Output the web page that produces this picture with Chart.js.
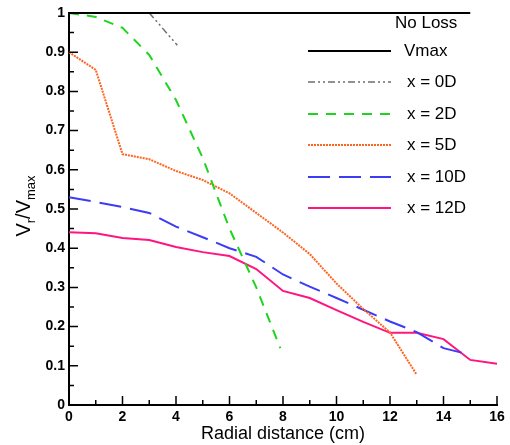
<!DOCTYPE html>
<html>
<head>
<meta charset="utf-8">
<script src="https://cdn.jsdelivr.net/npm/chart.js@4"></script>
<style>
  body { margin: 0; background: #fff; }
  #wrap { width: 510px; height: 445px; }
</style>
</head>
<body>
<div id="wrap"><canvas id="myChart" width="510" height="445"></canvas></div>
<script>
// values
const vmaxX = [0, 15];
const vmaxY = [1, 1];

const x0dX = [0, 1, 2, 3, 4.05];
const x0dY = [1, 1, 1, 1, 0.918];

const x2dX = [0, 1, 2, 3, 4, 5, 6, 7, 7.9];
const x2dY = [1.0, 0.99, 0.962, 0.893, 0.778, 0.63, 0.45, 0.3, 0.145];

const x5dX = [0, 1, 2, 3, 4, 5, 6, 7, 8, 9, 10, 11, 12, 13];
const x5dY = [0.9, 0.855, 0.64, 0.627, 0.597, 0.574, 0.54, 0.49, 0.44, 0.385, 0.31, 0.245, 0.185, 0.077];

const x10dX = [0, 1, 2, 3, 4, 5, 6, 7, 8, 9, 10, 11, 12, 13, 14, 15];
const x10dY = [0.53, 0.518, 0.505, 0.49, 0.455, 0.428, 0.4, 0.378, 0.333, 0.302, 0.273, 0.243, 0.213, 0.186, 0.145, 0.128];

const x12dX = [0, 1, 2, 3, 4, 5, 6, 7, 8, 9, 10, 11, 12, 13, 14, 15, 16];
const x12dY = [0.441, 0.438, 0.426, 0.421, 0.403, 0.39, 0.38, 0.347, 0.291, 0.273, 0.242, 0.212, 0.184, 0.184, 0.168, 0.115, 0.105];

const seriesNames = ["Vmax", "x = 0D", "x = 2D", "x = 5D", "x = 10D", "x = 12D"];
const legendTitle = "No Loss";
const xTitle = "Radial distance (cm)";

function pts(xs, ys) {
    return xs.map((x, i) => ({ x: x, y: ys[i] }));
}

function makeSet(name, xs, ys, color, width, dash) {
    return {
        label: name,
        data: pts(xs, ys),
        borderColor: color,
        backgroundColor: color,
        borderWidth: width,
        borderDash: dash,
        pointRadius: 0,
        tension: 0,
        fill: false,
        clip: 4
    };
}

// hand drawn legend, ticks pointing inward and the y title with subscripts
const extras = {
    id: "extras",
    afterDraw(chart) {
        const c = chart.ctx;
        const xs = chart.scales.x;
        const ys = chart.scales.y;
        const area = chart.chartArea;

        c.save();
        c.strokeStyle = "#000";
        c.lineWidth = 1.5;
        c.setLineDash([]);
        c.beginPath();
        for (let v = 0; v <= 16; v++) {
            const px = xs.getPixelForValue(v);
            const len = v % 2 === 0 ? 9 : 5;
            c.moveTo(px, area.bottom);
            c.lineTo(px, area.bottom - len);
        }
        for (let k = 0; k <= 20; k++) {
            const py = ys.getPixelForValue(k * 0.05);
            const len = k % 2 === 0 ? 9 : 5;
            c.moveTo(area.left, py);
            c.lineTo(area.left + len, py);
        }
        c.stroke();

        // legend
        c.fillStyle = "#000";
        c.font = "17px 'Liberation Sans', Arial, sans-serif";
        c.textBaseline = "middle";
        c.textAlign = "left";
        c.fillText(legendTitle, 395, 23);
        const rowY = [51, 82, 114, 145, 177, 208];
        chart.data.datasets.forEach((ds, i) => {
            const y = rowY[i];
            c.strokeStyle = ds.borderColor;
            c.lineWidth = ds.borderWidth;
            c.setLineDash(ds.borderDash || []);
            c.beginPath();
            c.moveTo(308, y);
            c.lineTo(391, y);
            c.stroke();
            c.setLineDash([]);
            c.fillText(ds.label, i === 0 ? 404 : 407, y);
        });

        // y axis title V_r/V_max
        c.translate(22, 206);
        c.rotate(-Math.PI / 2);
        c.textAlign = "left";
        c.textBaseline = "alphabetic";
        const big = "20px 'Liberation Sans', Arial, sans-serif";
        const small = "13px 'Liberation Sans', Arial, sans-serif";
        const parts = [["V", big, 0], ["r", small, 5], ["/V", big, 0], ["max", small, 5]];
        let w = 0;
        parts.forEach(p => { c.font = p[1]; w += c.measureText(p[0]).width; });
        let cx = -w / 2;
        parts.forEach(p => {
            c.font = p[1];
            c.fillText(p[0], cx, 8 + p[2]);
            cx += c.measureText(p[0]).width;
        });
        c.restore();
    }
};

const ctx = document.getElementById("myChart");
const chart = new Chart(ctx, {
    type: "line",
    data: {
        datasets: [
            makeSet(seriesNames[0], vmaxX, vmaxY, "#000000", 2, []),
            makeSet(seriesNames[1], x0dX, x0dY, "#6e6e6e", 1.5, [7, 3, 2, 3, 2, 3]),
            makeSet(seriesNames[2], x2dX, x2dY, "#1ed41e", 2, [10, 8]),
            makeSet(seriesNames[3], x5dX, x5dY, "#ff6420", 2, [2, 1]),
            makeSet(seriesNames[4], x10dX, x10dY, "#3c3cf5", 2, [22, 9]),
            makeSet(seriesNames[5], x12dX, x12dY, "#ff1480", 2, [])
        ]
    },
    options: {
        responsive: false,
        animation: false,
        layout: { padding: { top: 13, right: 13, left: 0, bottom: 0 } },
        plugins: {
            legend: { display: false },
            tooltip: { enabled: false }
        },
        scales: {
            x: {
                type: "linear",
                min: 0,
                max: 16,
                grid: { display: false, drawTicks: false },
                border: { display: true, color: "#000", width: 2 },
                ticks: {
                    stepSize: 2,
                    padding: 4,
                    color: "#000",
                    font: { family: "'Liberation Sans', Arial, sans-serif", size: 14, weight: "bold" }
                },
                title: {
                    display: true,
                    text: xTitle,
                    color: "#000",
                    padding: { top: -3, bottom: 0 },
                    font: { family: "'Liberation Sans', Arial, sans-serif", size: 18 }
                },
                afterFit(scale) { scale.height = 40; }
            },
            y: {
                min: 0,
                max: 1,
                grid: { display: false, drawTicks: false },
                border: { display: true, color: "#000", width: 2 },
                ticks: {
                    stepSize: 0.1,
                    padding: 4,
                    color: "#000",
                    font: { family: "'Liberation Sans', Arial, sans-serif", size: 14, weight: "bold" },
                    callback: v => String(Math.round(v * 10) / 10)
                },
                afterFit(scale) { scale.width = 69; }
            }
        }
    },
    plugins: [extras]
});
</script>
</body>
</html>
